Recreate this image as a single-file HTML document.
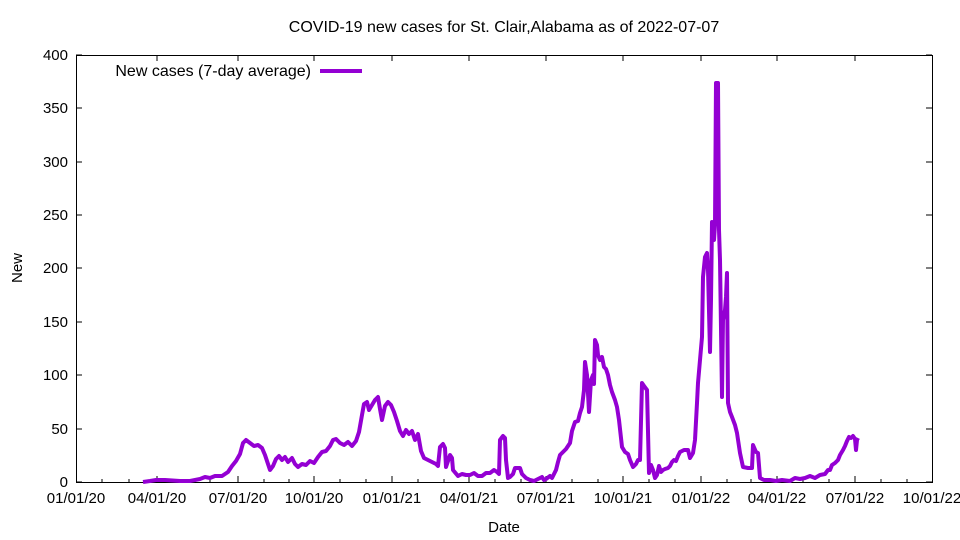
<!DOCTYPE html>
<html><head><meta charset="utf-8"><style>
body{margin:0;background:#fff}
svg{display:block;font-family:"Liberation Sans",sans-serif;font-size:15px}
</style></head><body>
<svg width="960" height="540" viewBox="0 0 960 540">
<rect width="960" height="540" fill="#fff"/>
<text x="504" y="32" text-anchor="middle" font-size="16">COVID-19 new cases for St. Clair,Alabama as of 2022-07-07</text>
<g stroke="#000" stroke-width="1">
<rect x="76.5" y="55.5" width="856" height="427" fill="none"/>
<path d="M76 482h6M932 482h-6M76 429h6M932 429h-6M76 375h6M932 375h-6M76 322h6M932 322h-6M76 268h6M932 268h-6M76 215h6M932 215h-6M76 162h6M932 162h-6M76 108h6M932 108h-6M76 55h6M932 55h-6"/>
<path d="M157 482v-6M238 482v-6M314 482v-6M392 482v-6M469 482v-6M546 482v-6M623 482v-6M701 482v-6M777 482v-6M855 482v-6M157 55v6M238 55v6M314 55v6M392 55v6M469 55v6M546 55v6M623 55v6M701 55v6M777 55v6M855 55v6"/>
<path d="M102 482v-3M129 482v-3M183 482v-3M210 482v-3M264 482v-3M289 482v-3M340 482v-3M366 482v-3M418 482v-3M444 482v-3M495 482v-3M521 482v-3M572 482v-3M598 482v-3M649 482v-3M675 482v-3M727 482v-3M751 482v-3M803 482v-3M829 482v-3M881 482v-3M907 482v-3"/>
</g>
<g text-anchor="end">
<text x="68" y="487">0</text><text x="68" y="434">50</text><text x="68" y="380">100</text><text x="68" y="327">150</text><text x="68" y="273">200</text><text x="68" y="220">250</text><text x="68" y="167">300</text><text x="68" y="113">350</text><text x="68" y="60">400</text>
</g>
<g text-anchor="middle">
<text x="76" y="503">01/01/20</text><text x="157" y="503">04/01/20</text><text x="238" y="503">07/01/20</text><text x="314" y="503">10/01/20</text><text x="392" y="503">01/01/21</text><text x="469" y="503">04/01/21</text><text x="546" y="503">07/01/21</text><text x="623" y="503">10/01/21</text><text x="701" y="503">01/01/22</text><text x="777" y="503">04/01/22</text><text x="855" y="503">07/01/22</text><text x="932" y="503">10/01/22</text>
<text x="504" y="532">Date</text>
</g>
<text transform="translate(22,268) rotate(-90)" text-anchor="middle">New</text>
<text x="311" y="76" text-anchor="end" font-size="16">New cases (7-day average)</text>
<path d="M320 71h42" stroke="#9400d3" stroke-width="4"/>
<polyline fill="none" stroke="#9400d3" stroke-width="4" stroke-linejoin="round" points="143,482 150,481 156,480 165,480 180,481 190,481 200,479 205,477 210,478 215,476 222,476 228,472 232,466 236,461 240,454 243,443 246,440 250,443 254,446 258,445 262,448 265,455 268,464 270,470 273,466 276,459 279,456 282,460 285,457 288,462 292,458 295,464 298,467 302,464 306,465 310,461 314,463 318,457 322,452 326,451 330,446 333,440 336,439 340,443 344,445 348,442 352,446 356,441 359,432 362,415 364,404 367,402 369,410 372,405 375,400 378,397 380,409 382,420 385,406 388,402 391,405 394,412 397,421 400,431 403,436 406,430 409,434 412,431 415,440 418,434 421,451 424,458 428,460 432,462 436,464 438,466 440,447 443,444 445,448 446,467 450,455 452,458 453,470 458,476 462,474 466,475 470,475 474,473 478,476 482,476 486,473 490,473 494,470 497,472 499,474 500,440 503,436 505,438 506,460 508,478 510,477 513,474 515,468 520,468 522,474 526,478 530,480 534,481 538,479 542,477 544,480 546,479 550,476 552,478 554,474 556,470 558,462 560,455 563,452 566,449 570,443 572,431 575,422 578,421 580,413 582,407 584,390 585,362 587,375 589,412 591,380 593,375 594,384 595,340 597,345 598,355 600,360 602,357 604,367 606,369 608,375 610,385 612,392 615,400 617,407 619,420 622,447 625,452 628,454 630,460 633,467 636,464 638,460 640,460 642,383 644,386 647,390 649,473 651,465 653,470 655,478 657,475 659,466 661,472 663,470 665,469 668,468 670,466 672,462 674,460 676,461 678,456 680,452 684,450 688,450 690,458 693,453 695,440 697,403 698,383 700,360 702,337 703,277 705,257 707,253 708,270 710,352 711,300 712,222 713,230 714,240 715,225 716,83 718,83 719,230 720,260 722,397 723,320 725,310 726,297 727,273 728,403 730,412 732,417 735,425 737,433 740,453 743,467 748,468 752,468 753,445 756,452 758,453 760,478 764,480 770,480 776,481 782,480 790,481 795,478 800,479 805,478 810,476 815,478 820,475 825,474 828,470 830,470 832,465 835,463 838,460 840,455 843,450 845,446 847,441 849,437 851,438 853,436 855,439 856,450 857,440 858,438"/>
</svg>
</body></html>
